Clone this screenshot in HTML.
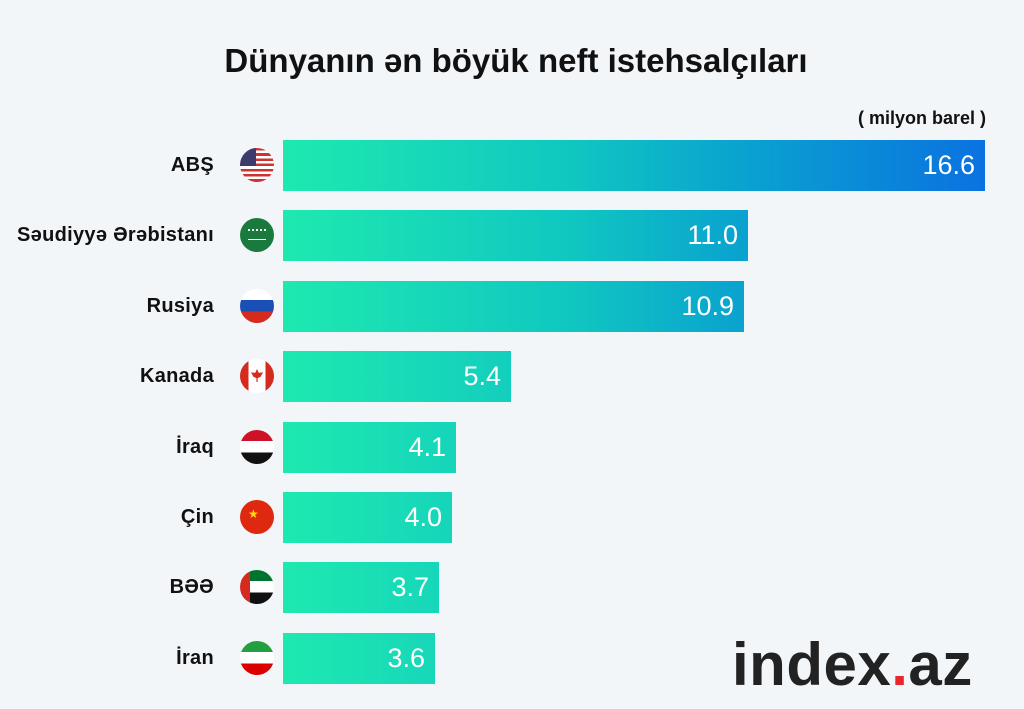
<!DOCTYPE html>
<html><head><meta charset="utf-8"><style>
body{margin:0;width:1024px;height:709px;background:#f3f6f9;position:relative;overflow:hidden;font-family:"Liberation Sans",sans-serif}
.t{position:absolute;left:0;width:1024px;top:42px;text-align:center;font-size:33px;font-weight:bold;color:#111;padding-left:4px}
.u{position:absolute;right:38px;top:108px;font-size:18px;font-weight:bold;color:#111}
.b{position:absolute;left:283px;height:51px;background:linear-gradient(90deg,#1ee9b0 0%,#10c8c0 40%,#0aa3cf 65%,#0a72e0 100%);background-size:702px 100%;background-repeat:no-repeat}
.v{position:absolute;right:10px;top:0;line-height:51px;color:#fff;font-size:27px}
.l{position:absolute;right:810px;font-size:20px;font-weight:bold;color:#111;line-height:51px;letter-spacing:0.3px}
.f{position:absolute;left:240px;width:34px;height:34px;border-radius:50%;overflow:hidden}
.logo{position:absolute;left:732px;top:630px;font-size:60px;font-weight:bold;color:#222;letter-spacing:0.5px}
</style></head><body>
<div class="t">Dünyanın ən böyük neft istehsalçıları</div>
<div class="u">( milyon barel )</div>

<div class="l" style="top:140px">ABŞ</div>
<div class="f" style="top:148px;background:repeating-linear-gradient(#c33 0 2.6px,#fff 2.6px 5.2px)"><div style="width:16px;height:18px;background:#3c3b6e"></div></div>
<div class="b" style="top:140px;width:702px"><span class="v">16.6</span></div>

<div class="l" style="top:210px">Səudiyyə Ərəbistanı</div>
<div class="f" style="top:218px;background:#1a7a3e"><div style="margin:11px 8px;width:18px;height:8px;border-top:2px dotted #fff;border-bottom:1px solid #fff"></div></div>
<div class="b" style="top:210px;width:465px"><span class="v">11.0</span></div>

<div class="l" style="top:281px">Rusiya</div>
<div class="f" style="top:289px;background:linear-gradient(#fff 0 33%,#1a4fb5 33% 66%,#d52b1e 66%)"></div>
<div class="b" style="top:281px;width:461px"><span class="v">10.9</span></div>

<div class="l" style="top:351px">Kanada</div>
<div class="f" style="top:359px;background:linear-gradient(90deg,#d52b1e 0 25%,#fff 25% 75%,#d52b1e 75%)"><div style="margin:10px auto;width:12px;height:13px;background:#d52b1e;clip-path:polygon(50% 0,65% 30%,100% 25%,80% 60%,55% 70%,55% 100%,45% 100%,45% 70%,20% 60%,0 25%,35% 30%)"></div></div>
<div class="b" style="top:351px;width:228px"><span class="v">5.4</span></div>

<div class="l" style="top:422px">İraq</div>
<div class="f" style="top:430px;background:linear-gradient(#ce1126 0 33%,#fff 33% 66%,#111 66%)"></div>
<div class="b" style="top:422px;width:173px"><span class="v">4.1</span></div>

<div class="l" style="top:492px">Çin</div>
<div class="f" style="top:500px;background:#de2910"><div style="position:absolute;left:8px;top:7px;color:#ffde00;font-size:12px">★</div></div>
<div class="b" style="top:492px;width:169px"><span class="v">4.0</span></div>

<div class="l" style="top:562px">BƏƏ</div>
<div class="f" style="top:570px;background:linear-gradient(#00732f 0 33%,#fff 33% 66%,#111 66%)"><div style="width:10px;height:34px;background:#d52b1e"></div></div>
<div class="b" style="top:562px;width:156px"><span class="v">3.7</span></div>

<div class="l" style="top:633px">İran</div>
<div class="f" style="top:641px;background:linear-gradient(#239f40 0 33%,#fff 33% 66%,#da0000 66%)"></div>
<div class="b" style="top:633px;width:152px"><span class="v">3.6</span></div>

<div class="logo">index<span style="color:#e8262c">.</span>az</div>
</body></html>
